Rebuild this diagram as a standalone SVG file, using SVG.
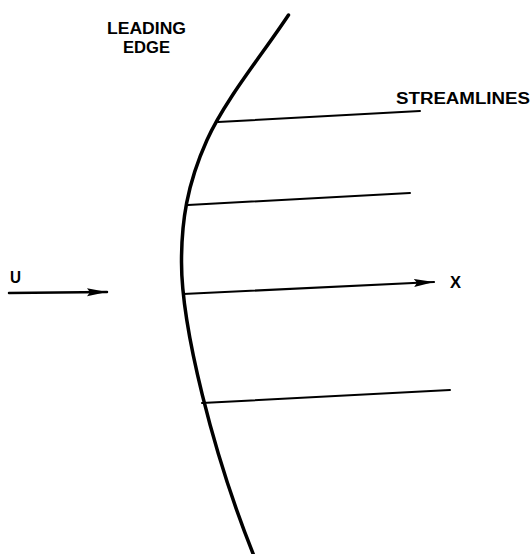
<svg xmlns="http://www.w3.org/2000/svg" width="530" height="554" viewBox="0 0 530 554">
<style>
.t{font-family:"Liberation Sans",Arial,sans-serif;font-weight:bold;font-size:16px;fill:#000}
.ln{stroke:#000;fill:none;stroke-linecap:round}
</style>
<defs>
<marker id="ah" viewBox="0 0 20 10" refX="20" refY="5" markerWidth="20" markerHeight="10" markerUnits="userSpaceOnUse" orient="auto" preserveAspectRatio="none">
<path d="M0,1 L20,5 L0,9 L3,5 Z" fill="#000"/>
</marker>
</defs>
<rect width="530" height="554" fill="#fff"/>
<g id="leading-edge">
<path class="ln" stroke-width="3.5" d="M288.5,15 C262,55 225,100 207,140 C186.75,185 181.5,222 181.5,262 C181.5,327 213,454 254,556"/>
</g>
<g id="connectors">
<path class="ln" stroke-width="2" d="M218,122 L420,111"/>
<path class="ln" stroke-width="2" d="M188,205 L410,193"/>
<path class="ln" stroke-width="2.2" d="M183,294 L434,282" marker-end="url(#ah)"/>
<path class="ln" stroke-width="2" d="M202,403 L450,390"/>
<path class="ln" stroke-width="2.5" d="M9,293 L107,292" marker-end="url(#ah)"/>
</g>
<g id="labels">
<text class="t" x="107" y="34" textLength="79" lengthAdjust="spacingAndGlyphs">LEADING</text>
<text class="t" x="123" y="53" textLength="47" lengthAdjust="spacingAndGlyphs">EDGE</text>
<text class="t" x="396" y="104" textLength="134" lengthAdjust="spacingAndGlyphs">STREAMLINES</text>
<text class="t" x="10" y="283" textLength="11" lengthAdjust="spacingAndGlyphs">U</text>
<text class="t" x="450" y="288" textLength="11" lengthAdjust="spacingAndGlyphs">X</text>
</g>
</svg>
